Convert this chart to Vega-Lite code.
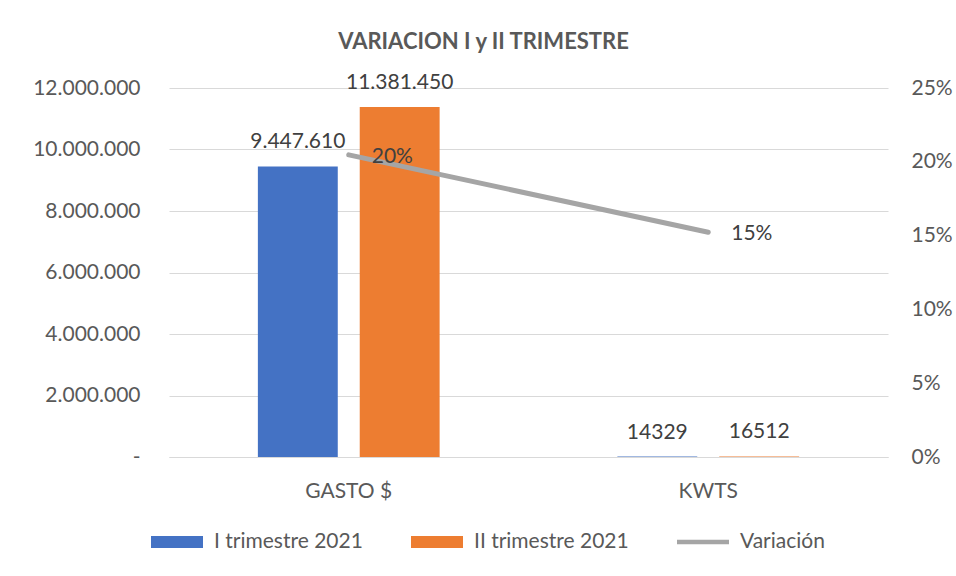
{
  "$schema": "https://vega.github.io/schema/vega-lite/v6.json",
  "autosize": "none",
  "width": 719,
  "height": 369,
  "padding": {"left": 169, "top": 88, "right": 68, "bottom": 119},
  "background": "white",
  "title": {
    "text": "VARIACION I y II TRIMESTRE",
    "font": "Lato",
    "fontSize": 22,
    "fontWeight": "bold",
    "color": "#595959",
    "anchor": "middle",
    "dx": -45,
    "offset": 18
  },
  "config": {
    "locale": {"number": {"decimal": ",", "thousands": ".", "grouping": [3], "currency": ["$", ""]}},
    "view": {"stroke": null},
    "font": "Lato",
    "axis": {"labelFont": "Lato", "labelFontSize": 21, "labelColor": "#595959", "title": null}
  },
  "datasets": {
    "barras": [
      {"categoria": "GASTO $", "serie": "I trimestre 2021", "valor": 9447610, "etiqueta": "9.447.610"},
      {"categoria": "GASTO $", "serie": "II trimestre 2021", "valor": 11381450, "etiqueta": "11.381.450"},
      {"categoria": "KWTS", "serie": "I trimestre 2021", "valor": 14329, "etiqueta": "14329"},
      {"categoria": "KWTS", "serie": "II trimestre 2021", "valor": 16512, "etiqueta": "16512"}
    ],
    "variacion": [
      {"categoria": "GASTO $", "variacion": 0.2047},
      {"categoria": "KWTS", "variacion": 0.1523}
    ]
  },
  "layer": [
    {
      "data": {"name": "barras"},
      "encoding": {
        "x": {
          "field": "categoria", "type": "nominal", "sort": ["GASTO $", "KWTS"],
          "scale": {"paddingInner": 0, "paddingOuter": 0},
          "axis": {"labelAngle": 0, "ticks": false, "domain": true, "domainColor": "#D9D9D9", "labelPadding": 23}
        },
        "xOffset": {
          "field": "serie", "type": "nominal", "sort": ["I trimestre 2021", "II trimestre 2021"],
          "scale": {"paddingInner": 0.2157, "paddingOuter": 0.8725}
        },
        "y": {
          "field": "valor", "type": "quantitative",
          "scale": {"domain": [0, 12000000], "nice": false},
          "axis": {
            "values": [0, 2000000, 4000000, 6000000, 8000000, 10000000, 12000000],
            "format": ",.0f",
            "labelExpr": "datum.value === 0 ? '-' : datum.label",
            "grid": true, "gridColor": "#D9D9D9", "gridWidth": 1,
            "domain": false, "ticks": false, "labelPadding": 29, "orient": "left"
          }
        }
      },
      "layer": [
        {
          "mark": {"type": "bar"},
          "encoding": {
            "color": {
              "field": "serie", "type": "nominal",
              "scale": {
                "domain": ["I trimestre 2021", "II trimestre 2021", "Variación"],
                "range": ["#4472C4", "#ED7D31", "#A5A5A5"]
              },
              "legend": {
                "title": null,
                "orient": "none",
                "direction": "horizontal",
                "legendX": -18,
                "legendY": 428,
                "labelFont": "Lato",
                "labelFontSize": 21,
                "labelColor": "#595959",
                "labelOffset": 11,
                "columnPadding": 48,
                "symbolSize": 2704,
                "symbolStrokeWidth": 0,
                "encode": {
                  "symbols": {
                    "update": {
                      "shape": {"signal": "datum.value === 'Variación' ? 'M-1,-0.09H1V0.09H-1Z' : 'M-1,-0.23H1V0.23H-1Z'"},
                      "strokeWidth": {"value": 0}
                    }
                  }
                }
              }
            }
          }
        },
        {
          "mark": {"type": "text", "baseline": "middle", "align": "center", "dy": -24, "fontSize": 21, "color": "#404040", "font": "Lato"},
          "encoding": {"text": {"field": "etiqueta", "type": "nominal"}}
        }
      ]
    },
    {
      "data": {"name": "variacion"},
      "encoding": {
        "x": {"field": "categoria", "type": "nominal", "sort": ["GASTO $", "KWTS"]},
        "y": {
          "field": "variacion", "type": "quantitative",
          "scale": {"domain": [0, 0.25], "nice": false},
          "axis": {
            "orient": "right",
            "values": [0, 0.05, 0.1, 0.15, 0.2, 0.25],
            "format": ".0%",
            "grid": false, "domain": false, "ticks": false, "labelPadding": 23
          }
        }
      },
      "layer": [
        {
          "mark": {"type": "line", "color": "#A5A5A5", "strokeWidth": 5, "strokeCap": "round"}
        },
        {
          "mark": {"type": "text", "align": "left", "baseline": "middle", "dx": 23, "dy": 2, "fontSize": 21, "color": "#404040", "font": "Lato"},
          "encoding": {"text": {"field": "variacion", "type": "quantitative", "format": ".0%"}}
        }
      ]
    }
  ],
  "resolve": {"scale": {"y": "independent"}}
}
